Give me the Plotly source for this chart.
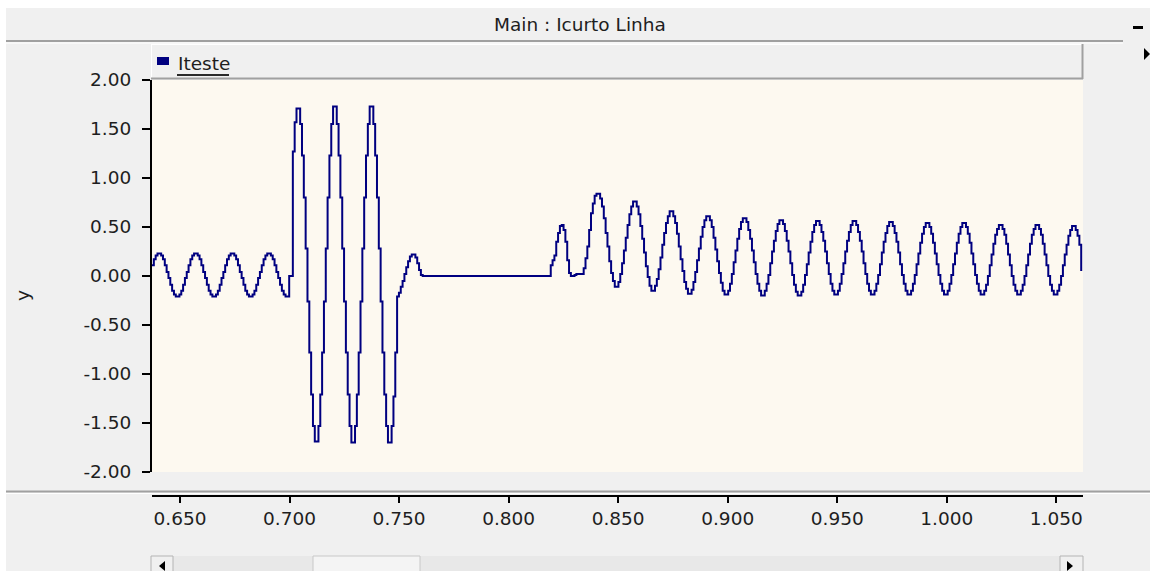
import numpy as np
import plotly.graph_objects as go

# ---------------------------------------------------------------------------
# Sampled record of the line current "Iteste" (one held value per sample)
# ---------------------------------------------------------------------------
T_START = 0.6372      # time of the first sample [s]
T_STEP = 0.000835     # sample interval [s]

# steady state before the fault (k = 0 .. 74)
PREFAULT = [
    0.11, 0.17, 0.21, 0.23, 0.23, 0.21, 0.17, 0.11, 0.04, -0.02, -0.09, -0.15, -0.19, -0.21, -0.21, -0.19, -0.15, -0.09, -0.02, 0.04,
    0.11, 0.17, 0.21, 0.23, 0.23, 0.21, 0.17, 0.11, 0.04, -0.02, -0.09, -0.15, -0.19, -0.21, -0.21, -0.19, -0.15, -0.09, -0.02, 0.04,
    0.11, 0.17, 0.21, 0.23, 0.23, 0.21, 0.17, 0.11, 0.04, -0.02, -0.09, -0.15, -0.19, -0.21, -0.21, -0.19, -0.15, -0.09, -0.02, 0.04,
    0.11, 0.17, 0.21, 0.23, 0.23, 0.21, 0.17, 0.11, 0.04, -0.02, -0.09, -0.15, -0.19, -0.21, -0.21,
]

# short-circuit current (k = 75 .. 134)
FAULT = [
    0.00, 0.00, 1.27, 1.57,
    1.71, 1.71, 1.55, 1.23, 0.80, 0.28, -0.26, -0.78, -1.21, -1.53, -1.69, -1.69, -1.53, -1.21, -0.78, -0.26, 0.28, 0.80, 1.23, 1.55,
    1.73, 1.73, 1.55, 1.23, 0.80, 0.28, -0.26, -0.78, -1.21, -1.53, -1.70, -1.70, -1.53, -1.21, -0.78, -0.26, 0.28, 0.80, 1.23, 1.55,
    1.73, 1.73, 1.55, 1.23, 0.80, 0.28, -0.26, -0.78, -1.21, -1.53, -1.70, -1.70, -1.53, -1.23, -0.78, -0.21,
]

# breaker opening and dead time (k = 135 .. 217)
OPEN = [
    -0.17, -0.11, -0.05, 0.02, 0.09, 0.15, 0.20, 0.22, 0.22, 0.19, 0.13, 0.06, 0.01,
    0.00, 0.00, 0.00, 0.00, 0.00, 0.00, 0.00, 0.00, 0.00, 0.00, 0.00, 0.00, 0.00, 0.00, 0.00, 0.00, 0.00, 0.00, 0.00, 0.00,
    0.00, 0.00, 0.00, 0.00, 0.00, 0.00, 0.00, 0.00, 0.00, 0.00, 0.00, 0.00, 0.00, 0.00, 0.00, 0.00, 0.00, 0.00, 0.00, 0.00,
    0.00, 0.00, 0.00, 0.00, 0.00, 0.00, 0.00, 0.00, 0.00, 0.00, 0.00, 0.00, 0.00, 0.00, 0.00, 0.00, 0.00, 0.00, 0.00, 0.00,
    0.00, 0.00, 0.00, 0.00, 0.00, 0.00, 0.00, 0.00, 0.00, 0.00,
]

# reclosing (k = 218 .. 508)
RECLOSE = [
    0.11, 0.16, 0.21, 0.35, 0.44, 0.51, 0.52, 0.47, 0.35, 0.16, 0.03, 0.00, 0.00, 0.01, 0.02, 0.02, 0.02, 0.02,
    0.08, 0.18, 0.30, 0.47, 0.64, 0.74, 0.82,
    0.84, 0.84, 0.79, 0.71, 0.59, 0.44, 0.30, 0.15, 0.03, -0.05, -0.11, -0.11, -0.06, 0.02, 0.13, 0.26, 0.39, 0.52, 0.63, 0.71,
    0.76, 0.76, 0.71, 0.63, 0.51, 0.38, 0.24, 0.10, -0.01, -0.10, -0.15, -0.15, -0.10, -0.03, 0.07, 0.19, 0.32, 0.44, 0.54, 0.61,
    0.66, 0.66, 0.61, 0.54, 0.43, 0.30, 0.17, 0.05, -0.06, -0.13, -0.18, -0.18, -0.14, -0.06, 0.04, 0.16, 0.28, 0.40, 0.50, 0.57,
    0.61, 0.61, 0.57, 0.50, 0.39, 0.27, 0.15, 0.03, -0.07, -0.15, -0.19, -0.19, -0.15, -0.08, 0.02, 0.14, 0.26, 0.38, 0.48, 0.55,
    0.59, 0.59, 0.55, 0.47, 0.38, 0.26, 0.14, 0.02, -0.08, -0.15, -0.20, -0.20, -0.15, -0.08, 0.01, 0.13, 0.25, 0.36, 0.46, 0.53,
    0.57, 0.57, 0.53, 0.46, 0.36, 0.25, 0.13, 0.01, -0.09, -0.16, -0.20, -0.20, -0.16, -0.09, 0.01, 0.12, 0.24, 0.35, 0.45, 0.52,
    0.56, 0.56, 0.52, 0.45, 0.36, 0.25, 0.13, 0.02, -0.08, -0.15, -0.19, -0.19, -0.15, -0.08, 0.02, 0.13, 0.25, 0.36, 0.45, 0.52,
    0.56, 0.56, 0.52, 0.45, 0.36, 0.25, 0.13, 0.02, -0.08, -0.15, -0.19, -0.19, -0.15, -0.08, 0.01, 0.12, 0.24, 0.35, 0.44, 0.51,
    0.55, 0.55, 0.51, 0.44, 0.35, 0.24, 0.12, 0.01, -0.08, -0.15, -0.19, -0.19, -0.15, -0.08, 0.01, 0.12, 0.23, 0.34, 0.43, 0.50,
    0.54, 0.54, 0.50, 0.43, 0.34, 0.23, 0.12, 0.01, -0.08, -0.15, -0.19, -0.19, -0.15, -0.08, 0.01, 0.12, 0.23, 0.34, 0.43, 0.50,
    0.54, 0.54, 0.50, 0.43, 0.34, 0.23, 0.12, 0.01, -0.08, -0.15, -0.19, -0.19, -0.15, -0.09, 0.00, 0.11, 0.22, 0.33, 0.42, 0.48,
    0.52, 0.52, 0.48, 0.42, 0.33, 0.22, 0.11, 0.00, -0.09, -0.15, -0.19, -0.19, -0.15, -0.09, 0.00, 0.11, 0.22, 0.33, 0.42, 0.48,
    0.52, 0.52, 0.48, 0.42, 0.33, 0.22, 0.11, 0.00, -0.09, -0.15, -0.19, -0.19, -0.15, -0.09, 0.00, 0.11, 0.22, 0.32, 0.41, 0.47,
    0.51, 0.51, 0.47, 0.41, 0.32, 0.05,
]

TITLE = "Main : Icurto Linha"
SERIES_NAME = "Iteste"
Y_LABEL = "y"

X_RANGE = [0.6372, 1.0622]
Y_RANGE = [-2.0, 2.0]
X_TICKS = [0.65, 0.70, 0.75, 0.80, 0.85, 0.90, 0.95, 1.00, 1.05]
X_TICK_LABELS = ["0.650", "0.700", "0.750", "0.800", "0.850", "0.900", "0.950", "1.000", "1.050"]
Y_TICKS = [2.0, 1.5, 1.0, 0.5, 0.0, -0.5, -1.0, -1.5, -2.0]
Y_TICK_LABELS = ["2.00", "1.50", "1.00", "0.50", "0.00", "-0.50", "-1.00", "-1.50", "-2.00"]

values = np.array(PREFAULT + FAULT + OPEN + RECLOSE)
assert len(values) == 509, len(values)
times = T_START + T_STEP * np.arange(len(values))

# ---------------------------------------------------------------------------
# Page geometry (pixels) and helpers converting to paper coordinates
# ---------------------------------------------------------------------------
W, H = 1150, 571
ML, MR, MT, MB = 152, 67, 80, 75          # paper area: x 152..1083, y 80..496
PW, PH = W - ML - MR, H - MT - MB
PLOT_BOTTOM = 472                           # lower edge of the cream plot area

PANEL = "#F0F0F0"
EDGE = "#A0A0A0"
TEXT = "#1E1E1E"
FONT = "DejaVu Sans"


def px(x):
    return (x - ML) / PW


def py(y):
    return (H - MB - y) / PH


def rect(x0, y0, x1, y1, fill, line=None, lw=0):
    return dict(type="rect", xref="paper", yref="paper",
                x0=px(x0), x1=px(x1), y0=py(y1), y1=py(y0),
                fillcolor=fill, line=dict(width=lw, color=line or fill))


def seg(x0, y0, x1, y1, color, w):
    return dict(type="line", xref="paper", yref="paper",
                x0=px(x0), x1=px(x1), y0=py(y0), y1=py(y1),
                line=dict(color=color, width=w))


def poly(points, fill):
    d = "M " + " L ".join(f"{px(x):.5f},{py(y):.5f}" for x, y in points) + " Z"
    return dict(type="path", xref="paper", yref="paper", path=d,
                fillcolor=fill, line=dict(width=0, color=fill))


shapes = [
    # white window margins
    rect(0, 0, W, 8, "#FFFFFF"),
    rect(0, 0, 6, H, "#FFFFFF"),
    # title bar edge and minimise button
    seg(6, 41, 1123, 41, EDGE, 2),
    seg(6, 43, 1123, 43, "#FFFFFF", 1),
    rect(1133, 26, 1143, 29, "#000000"),
    poly([(1144, 48), (1150, 54), (1144, 60)], "#000000"),
    # legend strip (raised panel)
    rect(151, 44, 1083, 79, PANEL),
    seg(151, 44.5, 1083, 44.5, "#FFFFFF", 1),
    seg(151.5, 44, 151.5, 79, "#FFFFFF", 1),
    seg(151, 78.5, 1083, 78.5, EDGE, 2),
    seg(1082.5, 44, 1082.5, 79, EDGE, 2),
    rect(157, 57, 169, 65, "#000080"),
    seg(177, 75, 229, 75, "#2A2A2A", 2),
    # separator between the graph and the time axis
    seg(6, 491.5, W, 491.5, EDGE, 2),
    seg(6, 493.5, W, 493.5, "#FFFFFF", 1),
    # horizontal scroll bar
    rect(151, 556, 1083, 575, "#F4F4F4"),
    rect(173, 556, 1060, 575, "#E8E8E8"),
    rect(313, 556, 420, 575, "#F4F4F4", "#C8C8C8", 1),
    rect(151, 556, 173, 575, PANEL, "#B4B4B4", 1),
    rect(1060, 556, 1083, 575, PANEL, "#B4B4B4", 1),
    poly([(159, 566), (165, 561), (165, 571)], "#000000"),
    poly([(1073, 566), (1067, 561), (1067, 571)], "#000000"),
]

annotations = [
    dict(text=TITLE, x=px(580), y=py(24), xref="paper", yref="paper",
         xanchor="center", yanchor="middle", showarrow=False,
         font=dict(family=FONT, size=18.5, color=TEXT)),
    dict(text=SERIES_NAME, x=px(176), y=py(63), xref="paper", yref="paper",
         xanchor="left", yanchor="middle", showarrow=False,
         font=dict(family=FONT, size=18.5, color=TEXT)),
    dict(text=Y_LABEL, x=px(22), y=py(296), xref="paper", yref="paper",
         xanchor="center", yanchor="middle", showarrow=False, textangle=-90,
         font=dict(family=FONT, size=18.5, color=TEXT)),
]

fig = go.Figure()
fig.add_trace(go.Scatter(
    x=times, y=values, mode="lines", name=SERIES_NAME,
    line=dict(color="#000080", width=2, shape="hv"),
    showlegend=False, hoverinfo="skip",
))

fig.update_layout(
    width=W, height=H,
    margin=dict(l=ML, r=MR, t=MT, b=MB, pad=0),
    paper_bgcolor=PANEL,
    plot_bgcolor="#FDF9F0",
    font=dict(family=FONT, size=18.5, color=TEXT),
    showlegend=False,
    shapes=shapes,
    annotations=annotations,
    xaxis=dict(
        range=X_RANGE, anchor="free", position=0,
        tickvals=X_TICKS, ticktext=X_TICK_LABELS,
        showgrid=False, zeroline=False,
        showline=True, linecolor="#000000", linewidth=2,
        ticks="outside", ticklen=6, tickwidth=1.5, tickcolor="#000000",
        tickfont=dict(family=FONT, size=18.5, color=TEXT),
        fixedrange=True,
    ),
    yaxis=dict(
        range=Y_RANGE, domain=[(H - MB - PLOT_BOTTOM) / PH, 1],
        tickvals=Y_TICKS, ticktext=Y_TICK_LABELS,
        showgrid=False, zeroline=False,
        showline=True, linecolor="#000000", linewidth=2,
        ticks="outside", ticklen=8, tickwidth=1.5, tickcolor="#000000",
        ticklabelstandoff=7,
        tickfont=dict(family=FONT, size=18.5, color=TEXT),
        fixedrange=True,
    ),
)

fig.write_html("out.html", config=dict(displayModeBar=False))
